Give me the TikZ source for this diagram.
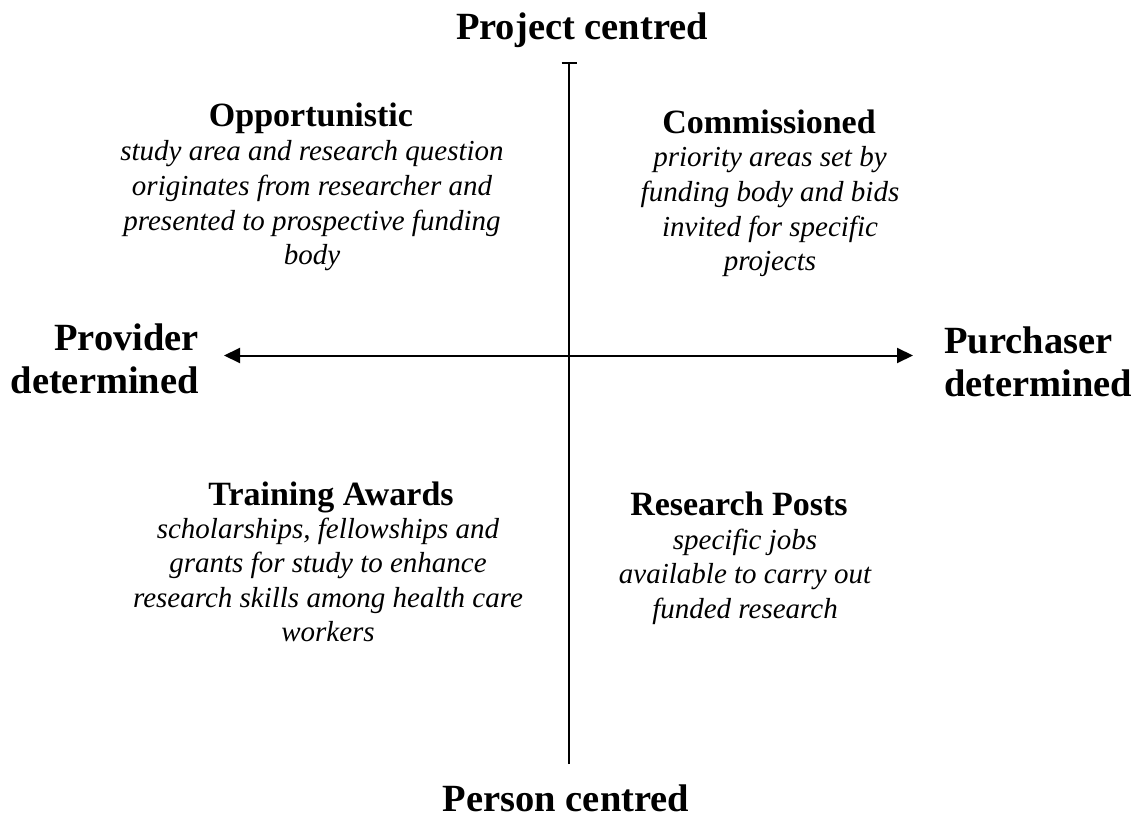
\documentclass[tikz,border=0pt]{standalone}
\usepackage{fontspec}
\setmainfont{Liberation Serif}
\usetikzlibrary{arrows.meta}
\begin{document}
\begin{tikzpicture}[x=1pt,y=-1pt,
  axislabel/.style={inner sep=0pt, font=\fontsize{38.5}{43.5}\selectfont\bfseries},
  heading/.style={inner sep=0pt, anchor=base, font=\fontsize{34}{39}\selectfont\bfseries},
  body/.style={inner sep=0pt, anchor=base, font=\fontsize{29}{34.6}\selectfont\itshape},
  axis/.style={line width=2pt}]
\useasboundingbox (0,0) rectangle (1145,818);

% axes
\coordinate (top) at (569,62);
\coordinate (bottom) at (569,764);
\coordinate (left) at (224,355.5);
\coordinate (right) at (913,355.5);
\draw[axis, -{Bar[width=15pt,line width=2pt]}] (bottom) -- (top);
\draw[axis, {Triangle[length=16pt,width=15pt]}-{Triangle[length=16pt,width=15pt]}] (left) -- (right);

% axis labels
\node[axislabel, anchor=base] (proj) at (582,40) {Project centred};
\node[axislabel, anchor=base] (pers) at (566,811) {Person centred};
\node[axislabel, anchor=base east] (prov) at (199,350)
  {\begin{tabular}[t]{@{}r@{}}Provider\\determined\end{tabular}};
\node[axislabel, anchor=base west] (purch) at (944,353)
  {\begin{tabular}[t]{@{}l@{}}Purchaser\\determined\end{tabular}};

% quadrants
\node[heading] (opp) at (311,127) {Opportunistic};
\node[body] (oppt) at (312,161) {\begin{tabular}[t]{@{}c@{}}study area and research question\\
  originates from researcher and\\presented to prospective funding\\body\end{tabular}};

\node[heading] (com) at (769,134) {Commissioned};
\node[body] (comt) at (770,167) {\begin{tabular}[t]{@{}c@{}}priority areas set by\\
  funding body and bids\\invited for specific\\projects\end{tabular}};

\node[heading] (tra) at (331,505) {Training Awards};
\node[body] (trat) at (328,538) {\begin{tabular}[t]{@{}c@{}}scholarships, fellowships and\\
  grants for study to enhance\\research skills among health care\\workers\end{tabular}};

\node[heading] (res) at (739,515) {Research Posts};
\node[body] (rest) at (745,549) {\begin{tabular}[t]{@{}c@{}}specific jobs\\
  available to carry out\\funded research\end{tabular}};
\end{tikzpicture}
\end{document}
